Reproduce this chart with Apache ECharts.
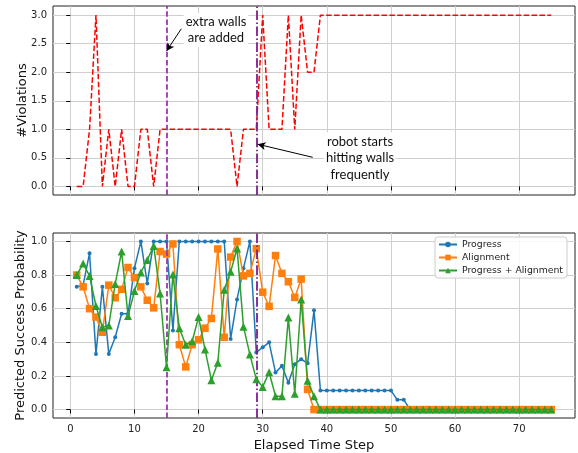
<!DOCTYPE html>
<html>
<head>
<meta charset="utf-8">
<script src="https://cdn.jsdelivr.net/npm/echarts@6/dist/echarts.min.js"></script>
<style>
html,body{margin:0;padding:0;background:#fff;}
#chart{width:578px;height:453px;}
</style>
</head>
<body>
<div id="chart"></div>
<script>
const steps = [1,2,3,4,5,6,7,8,9,10,11,12,13,14,15,16,17,18,19,20,21,22,23,24,25,26,27,28,29,30,31,32,33,34,35,36,37,38,39,40,41,42,43,44,45,46,47,48,49,50,51,52,53,54,55,56,57,58,59,60,61,62,63,64,65,66,67,68,69,70,71,72,73,74,75];

const violations = [0,0,1,3,0,1,0,1,0,0,1,1,0,1,1,1,1,1,1,1,1,1,1,1,1,0,1,1,1,3,1,1,1,3,1,3,2,2,3,
  3,3,3,3,3,3,3,3,3,3,3,3,3,3,3,3,3,3,3,3,3,3,3,3,3,3,3,3,3,3,3,3,3,3,3,3];

const progress = [0.73,0.74,0.93,0.33,0.73,0.33,0.43,0.57,0.57,0.84,1.0,0.75,1.0,1.0,1.0,0.47,
  1.0,1.0,1.0,1.0,1.0,1.0,1.0,1.0,0.42,0.655,0.84,1.0,0.34,0.37,0.40,0.22,0.26,0.16,0.27,0.30,0.275,0.59,
  0.113,0.113,0.113,0.113,0.113,0.113,0.113,0.113,0.113,0.113,0.113,0.113,0.058,0.058,
  0,0,0,0,0,0,0,0,0,0,0,0,0,0,0,0,0,0,0,0,0,0,0];

const alignment = [0.80,0.73,0.60,0.55,0.46,0.74,0.665,0.715,0.845,0.785,0.73,0.65,0.605,0.94,0.925,0.985,
  0.386,0.254,0.386,0.415,0.484,0.542,0.955,0.43,0.907,1.0,0.795,0.81,0.957,0.698,0.614,0.916,0.81,0.76,0.667,0.776,0.12,
  0,0,0,0,0,0,0,0,0,0,0,0,0,0,0,0,0,0,0,0,0,0,0,0,0,0,0,0,0,0,0,0,0,0,0,0,0,0];

const progAlign = [0.80,0.868,0.795,0.616,0.49,0.50,0.747,0.94,0.556,0.705,0.815,0.89,0.973,0.69,0.252,0.803,
  0.484,0.386,0.406,0.55,0.358,0.175,0.279,0.712,0.819,0.958,0.493,0.328,0.18,0.135,0.222,0.08,0.08,0.547,0.094,0.655,0.172,0.08,
  0,0,0,0,0,0,0,0,0,0,0,0,0,0,0,0,0,0,0,0,0,0,0,0,0,0,0,0,0,0,0,0,0,0,0,0,0];

const xTicks = [0,10,20,30,40,50,60,70];
const violTicks = [0,0.5,1,1.5,2,2.5,3];
const probTicks = [0,0.2,0.4,0.6,0.8,1.0];
const eventSteps = [15, 29];
const seriesNames = ['Progress','Alignment','Progress + Alignment'];

const pair = arr => steps.map((s,i)=>[s, arr[i]]);

const chart = echarts.init(document.getElementById('chart'), null, {renderer:'canvas'});

const tickFont = {fontFamily:'DejaVu Sans', fontSize:10, color:'#222'};
const nameFont = {fontFamily:'DejaVu Sans', fontSize:13, color:'#111'};
const splitLine = {show:true, lineStyle:{color:'#cfcfcf', width:1}};

function xAxisCfg(gridIndex, showLabels){
  return {
    type:'value', gridIndex, min:-2.7, max:78.7, minInterval:10, maxInterval:10, splitNumber:8,
    axisLine:{show:false},
    axisTick:{show:true, length:4, lineStyle:{color:'#000'}, customValues:xTicks},
    axisLabel:{show:showLabels, customValues:xTicks, margin:6, ...tickFont},
    splitLine,
    name: showLabels ? 'Elapsed Time Step' : '',
    nameLocation:'middle', nameGap:21, nameMoveOverlap:false, nameTextStyle:nameFont
  };
}
function yAxisCfg(gridIndex, min, max, ticks, step, name, gap){
  return {
    type:'value', gridIndex, min, max, minInterval:step, maxInterval:step,
    axisLine:{show:false},
    axisTick:{show:true, length:4, lineStyle:{color:'#000'}, customValues:ticks},
    axisLabel:{customValues:ticks, margin:6, formatter:v=>v.toFixed(1), ...tickFont},
    splitLine,
    name, nameLocation:'middle', nameGap:gap, nameMoveOverlap:false, nameTextStyle:nameFont
  };
}

const vLines = [
  {xAxis:eventSteps[0], lineStyle:{color:'#9a3aa8', width:1.8, type:[5.5,2.6]}},
  {xAxis:eventSteps[1], lineStyle:{color:'#7d1f8e', width:1.8, type:[9.6,2.4,1.5,2.4]}}
];
const vMark = {silent:true, symbol:'none', label:{show:false}, animation:false, data:vLines};

const option = {
  animation:false,
  grid:[
    {left:53, top:6, width:522, height:189, show:true, borderColor:'#222', borderWidth:1, backgroundColor:'transparent'},
    {left:53, top:233, width:522, height:188, show:true, borderColor:'#222', borderWidth:1, backgroundColor:'transparent'}
  ],
  xAxis:[xAxisCfg(0,false), xAxisCfg(1,true)],
  yAxis:[
    yAxisCfg(0,-0.15,3.16,violTicks,0.5,'#Violations',23.5),
    yAxisCfg(1,-0.05,1.05,probTicks,0.2,'Predicted Success Probability',26)
  ],
  legend:{
    data:seriesNames, orient:'vertical', left:435, top:237,
    itemWidth:18, itemHeight:7, itemGap:4, padding:[3,4,3,3],
    backgroundColor:'rgba(255,255,255,0.85)', borderColor:'#cccccc', borderWidth:1, borderRadius:3,
    textStyle:{fontFamily:'DejaVu Sans', fontSize:9.3, color:'#222'}
  },
  graphic:[
    {type:'text', x:216, y:30, z:10, style:{text:'extra walls\nare added', font:'13px Lato', fill:'#111', align:'center', verticalAlign:'middle', lineHeight:16, backgroundColor:'#fff', padding:[1,2]}},
    {type:'text', x:360, y:158, z:10, style:{text:'robot starts\nhitting walls\nfrequently', font:'13px Lato', fill:'#111', align:'center', verticalAlign:'middle', lineHeight:16.5, backgroundColor:'#fff', padding:[1,2]}}
  ],
  series:[
    {
      name:'#Violations', type:'line', xAxisIndex:0, yAxisIndex:0, data:pair(violations),
      showSymbol:false, symbol:'none', lineStyle:{color:'#ff0000', width:1.5, type:[5.5,2.4]},
      itemStyle:{color:'#ff0000'}, markLine:vMark, z:3
    },
    {
      name:'annot', type:'line', xAxisIndex:0, yAxisIndex:0, data:[], symbol:'none',
      markLine:{silent:true, symbol:['none','arrow'], symbolSize:[6,8], label:{show:false},
        lineStyle:{color:'#000', width:1, type:'solid'},
        data:[
          [{coord:[17.3,2.76]},{coord:[15.0,2.37]}],
          [{coord:[37.8,0.51]},{coord:[29.2,0.74]}]
        ]}
    },
    {
      name:seriesNames[0], type:'line', xAxisIndex:1, yAxisIndex:1, data:pair(progress),
      symbol:'circle', symbolSize:4, showAllSymbol:true,
      lineStyle:{color:'#1f77b4', width:1.5}, itemStyle:{color:'#1f77b4'}, markLine:vMark, z:3
    },
    {
      name:seriesNames[1], type:'line', xAxisIndex:1, yAxisIndex:1, data:pair(alignment),
      symbol:'rect', symbolSize:7.5, showAllSymbol:true,
      lineStyle:{color:'#ff7f0e', width:1.5}, itemStyle:{color:'#ff7f0e'}, z:4
    },
    {
      name:seriesNames[2], type:'line', xAxisIndex:1, yAxisIndex:1, data:pair(progAlign),
      symbol:'triangle', symbolSize:8, showAllSymbol:true,
      lineStyle:{color:'#2ca02c', width:1.5}, itemStyle:{color:'#2ca02c'}, z:5
    }
  ]
};
chart.setOption(option);
</script>
</body>
</html>
